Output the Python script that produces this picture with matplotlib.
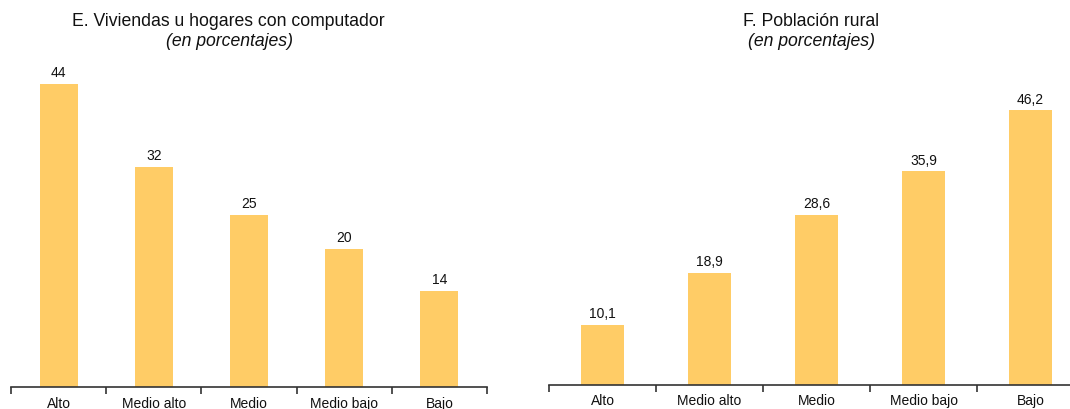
import matplotlib
matplotlib.use('Agg')
import matplotlib.pyplot as plt
import numpy as np

plt.rcParams['font.family'] = ['Liberation Sans', 'DejaVu Sans']

# data
categorias = ['Alto', 'Medio alto', 'Medio', 'Medio bajo', 'Bajo']
computador = [44, 32, 25, 20, 14]
rural = [10.1, 18.9, 28.6, 35.9, 46.2]

BAR_COLOR = '#FFCC66'
AXIS_COLOR = '#333333'

W, H = 1070, 409
fig = plt.figure(figsize=(W / 100, H / 100), dpi=100)


def panel(rect, values, ymax, fmt, label_pad):
    ax = fig.add_axes(rect)
    x = np.arange(len(values))
    ax.bar(x, values, width=0.4, color=BAR_COLOR, zorder=2)
    for xi, v in zip(x, values):
        ax.text(xi, v + ymax * 0.012, fmt(v), ha='center', va='bottom',
                fontsize=10, color='#111111')
    ax.set_xlim(-0.5, len(values) - 0.5)
    ax.set_ylim(0, ymax)
    for s in ['top', 'right', 'left']:
        ax.spines[s].set_visible(False)
    ax.spines['bottom'].set_color(AXIS_COLOR)
    ax.spines['bottom'].set_linewidth(1.2)
    ax.set_yticks([])
    ax.set_xticks(x)
    ax.set_xticklabels(categorias, fontsize=10, color='#111111')
    ax.tick_params(axis='x', which='major', length=0, pad=label_pad)
    ax.set_xticks(np.arange(len(values) + 1) - 0.5, minor=True)
    ax.tick_params(axis='x', which='minor', length=5, width=1.2,
                   color=AXIS_COLOR, direction='out')
    return ax


# left panel: baseline y=387, axes from x=11 to x=487
left_top = 60
panel([11 / W, (H - 387) / H, 476 / W, (387 - left_top) / H],
      computador, (387 - left_top) / 6.89, lambda v: '%d' % v, 7.5)

# right panel: baseline y=385, axes from x=549 to x=1084 (runs past the edge)
right_top = 90
panel([549 / W, (H - 385) / H, 535 / W, (385 - right_top) / H],
      rural, (385 - right_top) / 5.95,
      lambda v: ('%.1f' % v).replace('.', ','), 6.5)

fig.text(228 / W, 1 - 22 / H, 'E. Viviendas u hogares con computador',
         ha='center', va='center', fontsize=12.7, color='#111111')
fig.text(229 / W, 1 - 42 / H, '(en porcentajes)', ha='center', va='center',
         fontsize=12.7, style='italic', color='#111111')
fig.text(811 / W, 1 - 22 / H, 'F. Población rural',
         ha='center', va='center', fontsize=12.7, color='#111111')
fig.text(811 / W, 1 - 42 / H, '(en porcentajes)', ha='center', va='center',
         fontsize=12.7, style='italic', color='#111111')

fig.savefig('out.png', dpi=100)
